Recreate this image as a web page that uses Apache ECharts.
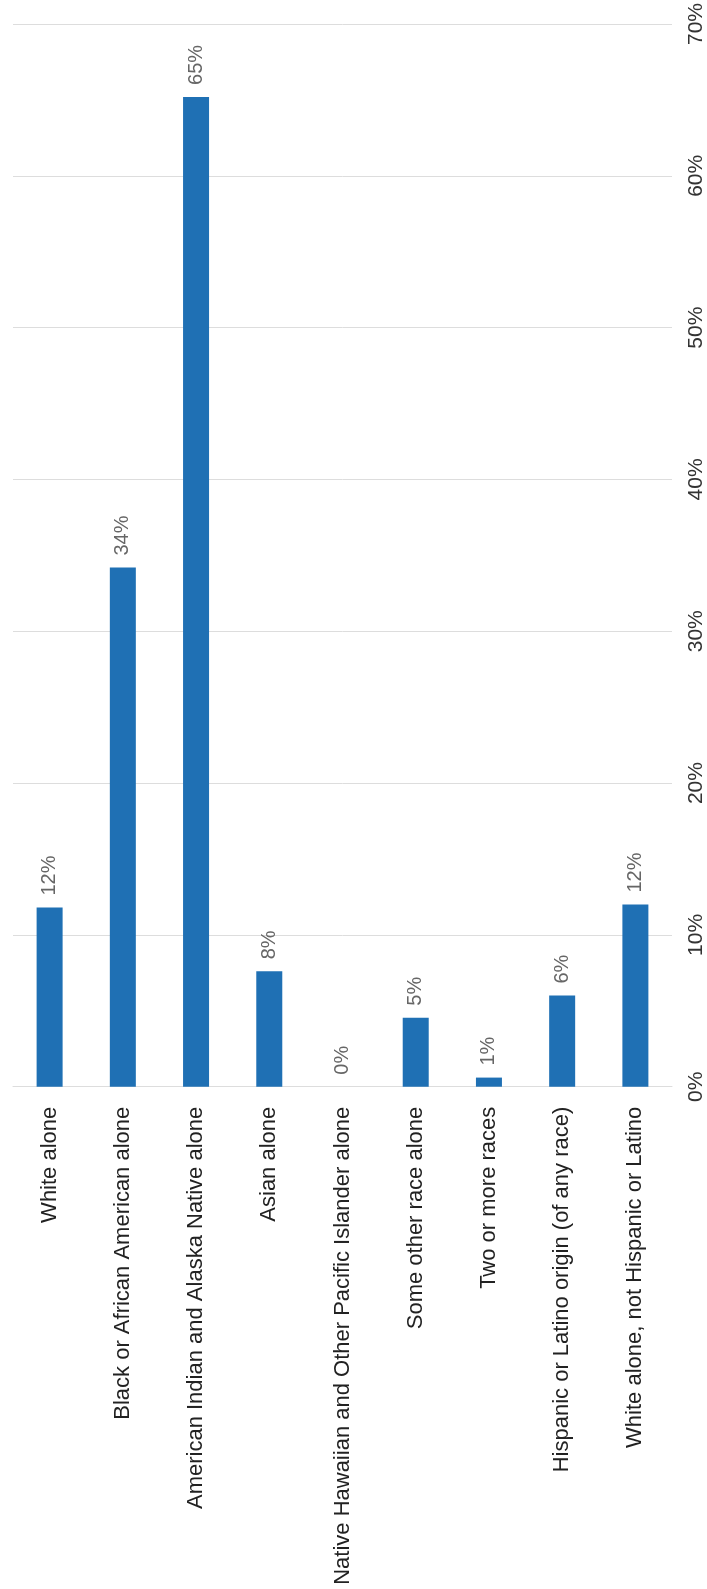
<!DOCTYPE html>
<html>
<head>
<meta charset="utf-8">
<script src="https://cdn.jsdelivr.net/npm/echarts@6/dist/echarts.min.js"></script>
<style>
html,body{margin:0;padding:0;background:#fff;}
#chart{width:707px;height:1589px;}
</style>
</head>
<body>
<div id="chart"></div>
<script>
const categories = [
  "White alone",
  "Black or African American alone",
  "American Indian and Alaska Native alone",
  "Asian alone",
  "Native Hawaiian and Other Pacific Islander alone",
  "Some other race alone",
  "Two or more races",
  "Hispanic or Latino origin (of any race)",
  "White alone, not Hispanic or Latino"
];
const values = [11.8, 34.2, 65.2, 7.6, 0, 4.55, 0.6, 6.0, 12.0];
const axisMin = 0;
const axisMax = 70;
const axisStep = 10;

const FONT = "'Liberation Sans', Arial, Helvetica, sans-serif";
const chart = echarts.init(document.getElementById('chart'), null, {renderer: 'canvas'});
chart.setOption({
  animation: false,
  backgroundColor: '#ffffff',
  grid: {left: 13, right: 35, top: 20.3, bottom: 502.3, containLabel: false},
  xAxis: {
    type: 'category',
    data: categories,
    axisTick: {show: false},
    axisLine: {show: true, lineStyle: {color: '#dddddd', width: 1}},
    axisLabel: {
      rotate: 90,
      interval: 0,
      margin: 20,
      fontSize: 22,
      color: '#222222',
      fontFamily: FONT
    }
  },
  yAxis: {
    type: 'value',
    position: 'right',
    min: axisMin,
    max: axisMax,
    interval: axisStep,
    axisLine: {show: false},
    axisTick: {show: false},
    splitLine: {lineStyle: {color: '#dddddd', width: 1}},
    axisLabel: {
      rotate: 90,
      margin: 14,
      align: 'center',
      verticalAlign: 'top',
      fontSize: 21,
      color: '#333333',
      fontFamily: FONT,
      formatter: v => v + '%'
    }
  },
  series: [{
    type: 'bar',
    data: values,
    barWidth: 26,
    itemStyle: {color: '#1f70b4'},
    label: {
      show: true,
      position: 'top',
      distance: 12,
      rotate: 90,
      align: 'left',
      verticalAlign: 'middle',
      fontSize: 20,
      color: '#666666',
      fontFamily: FONT,
      formatter: p => Math.round(p.value) + '%'
    }
  }]
});
</script>
</body>
</html>
